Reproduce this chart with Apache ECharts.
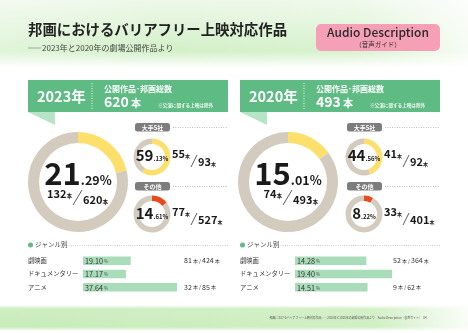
<!DOCTYPE html>
<html><head><meta charset="utf-8">
<script src="https://cdn.jsdelivr.net/npm/echarts@6/dist/echarts.min.js"></script>
<style>html,body{margin:0;padding:0;background:#fff}#c{width:468px;height:333px}</style>
</head><body><div id="c"></div>
<script>
// ---- data ----
const years = ['2023年', '2020年'];
const totalWorks = [620, 493];
const allNum = [132, 74];
const allPct = [21.29, 15.01];
const majorNum = [55, 41];
const majorDen = [93, 92];
const majorPct = [59.13, 44.56];
const otherNum = [77, 33];
const otherDen = [527, 401];
const otherPct = [14.61, 8.22];
const genres = ['劇映画', 'ドキュメンタリー', 'アニメ'];
const genrePct2023 = [19.10, 17.17, 37.64];
const genreNum2023 = [81, 19, 32];
const genreDen2023 = [424, 111, 85];
const genrePct2020 = [14.28, 19.40, 14.51];
const genreNum2020 = [52, 13, 9];
const genreDen2020 = [364, 67, 62];

const FONT = '"Noto Sans CJK JP","Noto Sans",sans-serif';
const GREEN = '#5dbb83', GRAY = '#d3ccbe', YELLOW = '#fddf6c', RED = '#e9491d', DARK = '#1a1a1a';
const cv = document.createElement('canvas').getContext('2d');
function measure(t, size, weight) { cv.font = (weight || 'normal') + ' ' + size + 'px ' + FONT; return cv.measureText(t).width; }

const G = [];
function txt(x, base, t, size, opt) {
  opt = opt || {};
  G.push({ type: 'text', x: x, y: base - 0.38 * size, z: 100, silent: true,
    style: { text: t, fontSize: size, fontFamily: FONT, fontWeight: opt.w || 'normal', fill: opt.c || DARK,
      align: opt.a || 'left', verticalAlign: 'middle' } });
}
function run(x, base, parts, align) {
  let tot = 0; parts.forEach(p => { p.wd = measure(p.t, p.s, p.w); tot += p.wd; });
  let cx = align === 'center' ? x - tot / 2 : align === 'right' ? x - tot : x;
  parts.forEach(p => { txt(cx, base + (p.dy || 0), p.t, p.s, { w: p.w, c: p.c }); cx += p.wd; });
}
function line(x1, y1, x2, y2, color, w, dash) {
  G.push({ type: 'line', z: 90, silent: true, shape: { x1, y1, x2, y2 },
    style: { stroke: color, lineWidth: w, lineDash: dash || null } });
}
function rect(x, y, w, h, fill, r, z) {
  G.push({ type: 'rect', z: z == null ? 5 : z, silent: true, shape: { x, y, width: w, height: h, r: r || 0 }, style: { fill } });
}
function pctText(cx, base, pct, big, small) {
  const s = pct.toFixed(2).split('.');
  run(cx, base, [{ t: s[0], s: big, w: 'bold' }, { t: '.' + s[1] + '%', s: small, w: 'bold' }], 'center');
}
function fraction(xs, yb, num, den, f1, f2, sw, sh, drop) {
  run(xs - 1, yb, [{ t: String(num), s: f1, w: 'bold' }, { t: '本', s: f2, w: 'bold' }], 'right');
  line(xs, yb + drop + 1, xs + sw, yb + drop - sh, '#333', 0.8);
  run(xs + sw + 1, yb + drop, [{ t: String(den), s: f1, w: 'bold' }, { t: '本', s: f2, w: 'bold' }], 'left');
}

// backgrounds
G.push({ type: 'rect', z: 0, silent: true, shape: { x: 0, y: 0, width: 468, height: 68 },
  style: { fill: new echarts.graphic.LinearGradient(0, 0, 0, 1, [{ offset: 0, color: '#eef8ea' }, { offset: 0.75, color: '#d3f0c8' }, { offset: 1, color: '#ffffff' }]) } });
G.push({ type: 'rect', z: 1, silent: true, shape: { x: 0, y: 0, width: 468, height: 68 },
  style: { fill: new echarts.graphic.LinearGradient(0, 0, 1, 0, [{ offset: 0, color: 'rgba(255,255,255,0.3)' }, { offset: 0.35, color: 'rgba(255,255,255,0)' }, { offset: 0.75, color: 'rgba(255,255,255,0.1)' }, { offset: 1, color: 'rgba(255,255,255,0.8)' }]) } });
G.push({ type: 'rect', z: 0, silent: true, shape: { x: 0, y: 305, width: 468, height: 26 },
  style: { fill: new echarts.graphic.LinearGradient(0, 0, 0, 1, [{ offset: 0, color: '#ffffff' }, { offset: 0.15, color: '#cdeec0' }, { offset: 0.85, color: '#c8ecba' }, { offset: 1, color: '#ffffff' }]) } });
G.push({ type: 'rect', z: 1, silent: true, shape: { x: 0, y: 305, width: 468, height: 26 },
  style: { fill: new echarts.graphic.LinearGradient(0, 0, 1, 0, [{ offset: 0, color: 'rgba(255,255,255,0)' }, { offset: 0.8, color: 'rgba(255,255,255,0.15)' }, { offset: 1, color: 'rgba(255,255,255,0.9)' }]) } });

// title
txt(28, 35, '邦画におけるバリアフリー上映対応作品', 14.4, { w: 'bold', c: '#222' });
line(28, 48, 41, 48, '#777', 0.6);
txt(42, 51, '2023年と2020年の劇場公開作品より', 8, { c: '#444' });
rect(316, 24, 124, 27, '#f5a0b6', 5, 5);
txt(378, 37, 'Audio Description', 12, { a: 'center', c: '#2a2a2a', w: 500 });
txt(378, 47, '（音声ガイド）', 6.5, { a: 'center', c: '#333' });

// footer
txt(348, 319.5, '邦画におけるバリアフリー上映対応作品――2023年と2020年の劇場公開作品より　Audio Description（音声ガイド）　04', 2.9, { a: 'center', c: '#555' });

const panelX = [28, 240];
const bigC = [[78, 182], [288, 182]];
const smallCX = [152, 364];
const series = [];
function donut(c, r, pct, color) {
  series.push({ type: 'pie', center: c, radius: r, startAngle: 90, clockwise: true, silent: true, animation: false,
    label: { show: false }, labelLine: { show: false }, emphasis: { disabled: true },
    data: [{ value: pct, itemStyle: { color } }, { value: 100 - pct, itemStyle: { color: GRAY } }] });
}

for (let i = 0; i < 2; i++) {
  const px = panelX[i], W = 200;
  rect(px, 80, W, 32, GREEN, 0, 5);
  G.push({ type: 'polygon', z: 5, silent: true, shape: { points: [[px, 112], [px + 27, 112], [px + 27, 125]] }, style: { fill: '#b7e3c6' } });
  txt(px + 9, 102, years[i], 14.5, { w: 'bold', c: '#fff' });
  line(px + 64, 83, px + 64, 109, '#e8f6ec', 1, [1, 1.5]);
  txt(px + 76, 92, '公開作品･邦画総数', 8, { w: 'bold', c: '#fff' });
  run(px + 76, 107, [{ t: String(totalWorks[i]), s: 14, w: 'bold', c: '#fff' }, { t: ' 本', s: 10, w: 'bold', c: '#fff' }], 'left');
  txt(px + 130, 107, '※公演に関する上映は除外', 4.6, { w: 'bold', c: '#eef8f0' });

  donut(bigC[i], [39, 50], allPct[i], YELLOW);
  pctText(bigC[i][0], 185, allPct[i], 31, 12.5);
  fraction(bigC[i][0] - 5, 198, allNum[i], totalWorks[i], 11, 5.5, 9, 14, 6);

  const sx = smallCX[i];
  donut([sx, 157], [13, 18.5], majorPct[i], YELLOW);
  donut([sx, 214], [13, 18.5], otherPct[i], RED);
  pctText(sx, 161, majorPct[i], 15, 6);
  pctText(sx, 219, otherPct[i], 15, 6);
  fraction(sx + 39, 158, majorNum[i], majorDen[i], 11, 5, 6, 11, 8);
  fraction(sx + 39, 216, otherNum[i], otherDen[i], 11, 5, 6, 11, 8);
  [[123, '大手5社'], [182, 'その他']].forEach(p => {
    rect(sx - 17, p[0], 35, 8.5, '#7d7d7d', 2.5, 6);
    txt(sx + 0.5, p[0] + 6.6, p[1], 6, { a: 'center', w: 'bold', c: '#fff' });
    line(sx + 21, p[0] + 4.5, px + W, p[0] + 4.5, '#888', 0.7, [0.8, 1.6]);
  });

  G.push({ type: 'circle', z: 6, silent: true, shape: { cx: px + 2.5, cy: 245, r: 2.5 }, style: { fill: GREEN } });
  txt(px + 7, 247.5, 'ジャンル別', 6.5, { c: '#444' });
  line(px + 34, 245.5, px + W, 245.5, '#999', 0.6, [0.8, 1.4]);
}

const gridsPct = [genrePct2023, genrePct2020], gridsNum = [genreNum2023, genreNum2020], gridsDen = [genreDen2023, genreDen2020];
const axMax = [40, 20];
const grids = [], xAxes = [], yAxes = [];
for (let i = 0; i < 2; i++) {
  const left = i === 0 ? 83 : 295;
  grids.push({ left: left, top: 254, width: 100, height: 40 });
  xAxes.push({ gridIndex: i, type: 'value', min: 0, max: axMax[i], show: false });
  yAxes.push({ gridIndex: i, type: 'category', data: genres, inverse: true,
    axisLine: { show: false }, axisTick: { show: false }, splitLine: { show: false },
    axisLabel: { align: 'left', margin: 55, fontSize: 6.3, color: '#333', fontFamily: FONT } });
  yAxes.push({ gridIndex: i, type: 'category', data: genres.map((g, k) => '{n|' + gridsNum[i][k] + '}{u| 本 / }{n|' + gridsDen[i][k] + '}{u| 本}'),
    inverse: true, position: 'right',
    axisLine: { show: false }, axisTick: { show: false }, splitLine: { show: false },
    axisLabel: { align: 'left', margin: i === 0 ? 1 : -2, fontFamily: FONT,
      rich: { n: { fontSize: 7, color: '#333', fontFamily: FONT }, u: { fontSize: 5, color: '#333', fontFamily: FONT } } } });
  series.push({ type: 'bar', xAxisIndex: i, yAxisIndex: i * 2, data: gridsPct[i], barWidth: 8.5, silent: true, animation: false,
    itemStyle: { color: '#a9dcb9' },
    label: { show: true, position: 'insideLeft', offset: [-3, 0.5], fontFamily: FONT,
      formatter: p => '{v|' + p.value.toFixed(2) + '}{u| %}',
      rich: { v: { fontSize: 7.2, color: '#333', fontFamily: FONT }, u: { fontSize: 4.5, color: '#555', fontFamily: FONT } } } });
}

const chart = echarts.init(document.getElementById('c'), null, { renderer: 'canvas' });
chart.setOption({ animation: false, backgroundColor: '#fff', grid: grids, xAxis: xAxes, yAxis: yAxes, series: series, graphic: { elements: G } });
</script></body></html>
